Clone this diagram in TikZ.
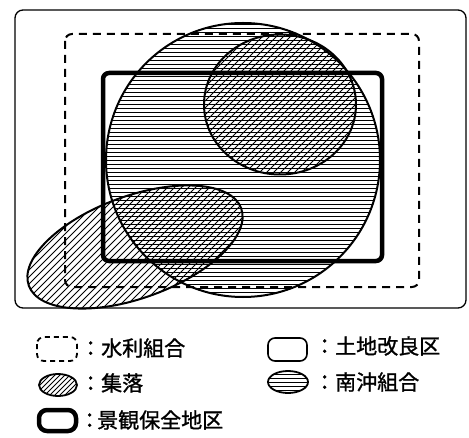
\documentclass[tikz,border=0pt]{standalone}
\usepackage{fontspec}
\newfontfamily\jpfont[FakeBold=1.2]{Noto Sans CJK JP}
\begin{document}
\begin{tikzpicture}[x=1bp,y=-1bp,
  frame/.style={line width=1.3bp,rounded corners=8bp},
  waterbox/.style={line width=2bp,dashed,dash pattern=on 8bp off 6bp,rounded corners=7bp},
  landbox/.style={line width=1.6bp,rounded corners=7bp},
  scenebox/.style={line width=4.5bp,rounded corners=6bp},
  outline/.style={line width=2bp},
  hline/.style={line width=0.9bp},
  dline/.style={line width=0.8bp},
  label/.style={anchor=west,inner sep=0pt,font=\jpfont\fontsize{21bp}{21bp}\selectfont}]
\useasboundingbox (0,0) rectangle (469,438);

% outer frame
\draw[frame] (15,10) rectangle (466,308);

% hatching of the big circle (南沖組合)
\begin{scope}
  \clip (243,160) circle [radius=137];
  \foreach \y in {24,28,...,300} \draw[hline] (100,\y) -- (385,\y);
\end{scope}
% hatching of upper-right 集落
\begin{scope}
  \clip (280,104.5) ellipse [x radius=76, y radius=70];
  \foreach \k in {-80,-73,...,380} \draw[dline] (\k,190) -- (\k+170,20);
\end{scope}
% hatching of lower-left 集落
\begin{scope}
  \clip[rotate around={20:(135,247)}] (135,247) ellipse [x radius=113, y radius=51];
  \foreach \k in {-140,-133,...,260} \draw[dline] (\k,320) -- (\k+150,170);
\end{scope}

% outlines
\draw[outline] (243,160) circle [radius=137];
\draw[outline] (280,104.5) ellipse [x radius=76, y radius=70];
\draw[outline,rotate around={20:(135,247)}] (135,247) ellipse [x radius=113, y radius=51];
\draw[waterbox] (65,34) rectangle (419,287);
\draw[scenebox] (103,73) rectangle (382,261);

% legend
\draw[waterbox,line width=1.8bp,dash pattern=on 5bp off 4bp] (37,337) rectangle (77,361);
\node[label] (t1) at (80,348) {：水利組合};

\begin{scope}
  \clip (58,385) ellipse [x radius=19, y radius=11];
  \foreach \k in {20,25,...,90} \draw[dline] (\k,400) -- (\k+30,370);
\end{scope}
\draw[outline,line width=1.8bp] (58,385) ellipse [x radius=19, y radius=11];
\node[label] (t2) at (80,383) {：集落};

\draw[scenebox,line width=4.5bp,rounded corners=8bp] (39,410) rectangle (76,431);
\node[label] (t3) at (79,420) {：\hspace{-3bp}景観保全地区};

\draw[landbox] (268,338) rectangle (307,361);
\node[label] (t4) at (314,346) {：土地改良区};

\begin{scope}
  \clip (288,382) ellipse [x radius=20, y radius=11];
  \foreach \y in {374,378,...,392} \draw[hline] (266,\y) -- (310,\y);
\end{scope}
\draw[outline,line width=1.8bp] (288,382) ellipse [x radius=20, y radius=11];
\node[label] (t5) at (314,382) {：南沖組合};
\end{tikzpicture}
\end{document}
